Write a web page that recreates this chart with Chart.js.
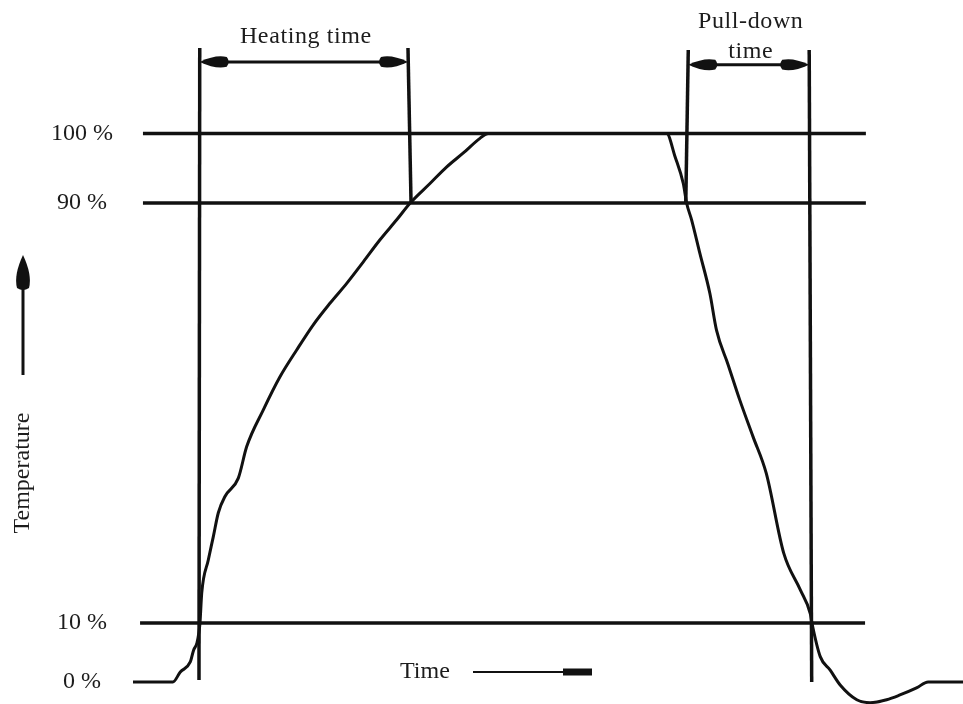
<!DOCTYPE html>
<html>
<head>
<meta charset="utf-8">
<title>Heating and pull-down time</title>
<script src="https://cdn.jsdelivr.net/npm/chart.js@4/dist/chart.umd.min.js"></script>
<style>
  html, body { margin: 0; padding: 0; background: #fff; }
  canvas { display: block; }
</style>
</head>
<body>
<canvas id="chart" width="963" height="704"></canvas>
<script>
// ---- Data ---------------------------------------------------------------
// Temperature curve: time (arbitrary units, 0–100) and temperature level (%)
const curveTime  = [0, 4.8, 5.7, 6.9, 7.3, 7.7, 7.95, 8.07,
                    8.28, 9.07, 9.67, 10.28, 11.08, 12.69, 13.7, 15.7, 17.71, 19.72,
                    21.72, 23.73, 25.75, 27.75, 29.76, 31.77, 33.4, 35.78, 37.8, 39.8,
                    41.8, 42.8, 64.3, 65.3, 66.3, 66.7, 67.3, 68.3, 69.5, 70.3,
                    71.7, 73.1, 74.7, 76.3, 78.4, 80.4, 81.6, 81.8, 82.8, 84.0,
                    85.2, 87.2, 88.8, 90.8, 92.4, 94.4, 95.8, 100];
const curveLevel = [0, 0, 1.7, 3.4, 5.4, 6.6, 8.5, 10,
                    15.7, 22.0, 26.4, 31.0, 34.1, 37.6, 43.6, 50.6, 56.9, 62.0,
                    66.8, 70.9, 74.7, 78.8, 83.0, 86.8, 90, 92.8, 95.2, 97.2,
                    99.3, 100, 100, 96.7, 92.8, 90, 86.8, 80.4, 72.8, 65.8,
                    59.2, 52.5, 45.5, 38.5, 23.3, 16.3, 11.8, 10, 4.3, 2.0,
                    -0.5, -3.0, -3.5, -3.0, -2.2, -1.0, 0, 0];

// Reference levels drawn as horizontal lines
const levelValues = [100, 90, 10];
const levelFrom   = [1.2, 1.2, 0.85];
const levelTo     = [88.3, 88.3, 88.2];

// Y-axis tick levels
const tickLevels = [0, 10, 90, 100];

// Vertical marker lines (start/end of heating and pull-down)
const markerTopTime     = [8.04, 33.13, 66.9, 81.47];
const markerTopLevel    = [112.3, 112.3, 112.0, 112.0];
const markerBottomTime  = [7.95, 33.5, 66.6, 81.77];
const markerBottomLevel = [0.34, 90, 90, 0];

// Dimension arrows between marker pairs
const spanLabels = [['Heating time'], ['Pull-down', 'time']];
const spanFrom   = [0, 2];
const spanTo     = [1, 3];
const spanLevel  = [110.3, 109.9];

// ---- Schematic (piecewise linear) temperature axis ------------------------
// value -> fraction of plot height from the bottom
const LEVEL_STOPS = [[-3.73, 0], [0, 0.03125], [10, 0.11506], [90, 0.71165], [100, 0.81037], [119.2, 1]];

class LevelScale extends Chart.LinearScale {
  _fraction(value) {
    const s = LEVEL_STOPS;
    let i = 1;
    while (i < s.length - 1 && value > s[i][0]) i++;
    const [v0, f0] = s[i - 1], [v1, f1] = s[i];
    return f0 + (value - v0) * (f1 - f0) / (v1 - v0);
  }
  getPixelForValue(value) {
    return this.bottom - this._fraction(value) * (this.bottom - this.top);
  }
  getValueForPixel(pixel) {
    const f = (this.bottom - pixel) / (this.bottom - this.top);
    const s = LEVEL_STOPS;
    let i = 1;
    while (i < s.length - 1 && f > s[i][1]) i++;
    const [v0, f0] = s[i - 1], [v1, f1] = s[i];
    return v0 + (f - f0) * (v1 - v0) / (f1 - f0);
  }
}
LevelScale.id = 'level';
LevelScale.defaults = Chart.LinearScale.defaults;
Chart.register(LevelScale);

// ---- Styling ---------------------------------------------------------------
const INK = '#111111';
const TEXT = '#1c1c1c';
const SERIF = '"Liberation Serif", "Times New Roman", serif';

const datasets = [];
datasets.push({
  label: 'Temperature',
  data: curveTime.map((t, i) => ({ x: t, y: curveLevel[i] })),
  borderColor: INK, borderWidth: 3, pointRadius: 0, fill: false,
  cubicInterpolationMode: 'monotone',
  borderJoinStyle: 'round'
});
levelValues.forEach((v, i) => datasets.push({
  label: v + ' %',
  data: [{ x: levelFrom[i], y: v }, { x: levelTo[i], y: v }],
  borderColor: INK, borderWidth: 3.5, pointRadius: 0, fill: false
}));
markerTopTime.forEach((t, i) => datasets.push({
  label: 'marker ' + i,
  data: [{ x: t, y: markerTopLevel[i] }, { x: markerBottomTime[i], y: markerBottomLevel[i] }],
  borderColor: INK, borderWidth: 3.5, pointRadius: 0, fill: false
}));

// Arrow heads shaped like a teardrop
function arrowHead(ctx, tipX, tipY, dirX, dirY, len, half) {
  const nx = -dirY, ny = dirX;
  const bx = tipX + dirX * len, by = tipY + dirY * len;
  ctx.beginPath();
  ctx.moveTo(tipX, tipY);
  ctx.quadraticCurveTo(tipX + dirX * len * 0.6 + nx * half * 1.25, tipY + dirY * len * 0.6 + ny * half * 1.25,
                       bx + nx * half * 0.8, by + ny * half * 0.8);
  ctx.quadraticCurveTo(bx + dirX * 4, by + dirY * 4, bx - nx * half * 0.8, by - ny * half * 0.8);
  ctx.quadraticCurveTo(tipX + dirX * len * 0.6 - nx * half * 1.25, tipY + dirY * len * 0.6 - ny * half * 1.25,
                       tipX, tipY);
  ctx.closePath();
  ctx.fill();
}

const annotations = {
  id: 'annotations',
  afterDatasetsDraw(chart) {
    const { ctx, scales: { x, y } } = chart;
    ctx.save();
    ctx.fillStyle = INK;
    ctx.strokeStyle = INK;
    ctx.lineCap = 'butt';

    // Dimension arrows with their captions
    spanFrom.forEach((a, i) => {
      const x1 = x.getPixelForValue(markerTopTime[a]);
      const x2 = x.getPixelForValue(markerTopTime[spanTo[i]]);
      const yy = y.getPixelForValue(spanLevel[i]);
      ctx.lineWidth = 3;
      ctx.beginPath();
      ctx.moveTo(x1 + 4, yy);
      ctx.lineTo(x2 - 4, yy);
      ctx.stroke();
      arrowHead(ctx, x1, yy, 1, 0, 27, 6);
      arrowHead(ctx, x2, yy, -1, 0, 27, 6);

      ctx.fillStyle = TEXT;
      ctx.font = '24px ' + SERIF;
      ctx.letterSpacing = '0.6px';
      ctx.textAlign = 'center';
      ctx.textBaseline = 'alphabetic';
      const cx = (x1 + x2) / 2 + 2;
      const lines = spanLabels[i];
      if (lines.length === 1) {
        ctx.fillText(lines[0], cx, yy - 19);
      } else {
        ctx.fillText(lines[0], cx, yy - 37);
        ctx.fillText(lines[1], cx, yy - 7);
      }
      ctx.letterSpacing = '0px';
      ctx.fillStyle = INK;
    });

    // Axis caption for time with its arrow
    ctx.fillStyle = TEXT;
    ctx.font = '24px ' + SERIF;
    ctx.textAlign = 'left';
    ctx.textBaseline = 'alphabetic';
    ctx.fillText('Time', 400, 678);
    ctx.fillStyle = INK;
    ctx.lineWidth = 2;
    ctx.beginPath();
    ctx.moveTo(473, 672);
    ctx.lineTo(565, 672);
    ctx.stroke();
    ctx.fillRect(563, 668.5, 29, 7);

    // Axis caption for temperature with its arrow
    ctx.lineWidth = 3;
    ctx.beginPath();
    ctx.moveTo(23, 375);
    ctx.lineTo(23, 282);
    ctx.stroke();
    arrowHead(ctx, 23, 255, 0, 1, 33, 7.5);

    ctx.save();
    ctx.translate(29, 473);
    ctx.rotate(-Math.PI / 2);
    ctx.fillStyle = TEXT;
    ctx.font = '24px ' + SERIF;
    ctx.textAlign = 'center';
    ctx.textBaseline = 'alphabetic';
    ctx.fillText('Temperature', 0, 0);
    ctx.restore();

    ctx.restore();
  }
};

new Chart(document.getElementById('chart'), {
  type: 'line',
  data: { datasets },
  options: {
    responsive: false,
    animation: false,
    layout: { padding: 0 },
    plugins: { legend: { display: false }, tooltip: { enabled: false } },
    elements: { line: { tension: 0 } },
    scales: {
      x: {
        type: 'linear', min: 0, max: 100, display: false
      },
      y: {
        type: 'level', min: -3.73, max: 119.2,
        border: { display: false },
        grid: { display: false, drawTicks: false, tickLength: 0 },
        afterBuildTicks: (scale) => { scale.ticks = tickLevels.map(v => ({ value: v })); },
        afterFit: (scale) => {
          scale.width = 133;
          scale.paddingTop = 0;
          scale.paddingBottom = 0;
        },
        ticks: {
          autoSkip: false,
          crossAlign: 'center',
          padding: 20,
          color: TEXT,
          font: { family: SERIF, size: 24 },
          callback: (v) => v + ' %'
        }
      }
    }
  },
  plugins: [annotations]
});
</script>
</body>
</html>
